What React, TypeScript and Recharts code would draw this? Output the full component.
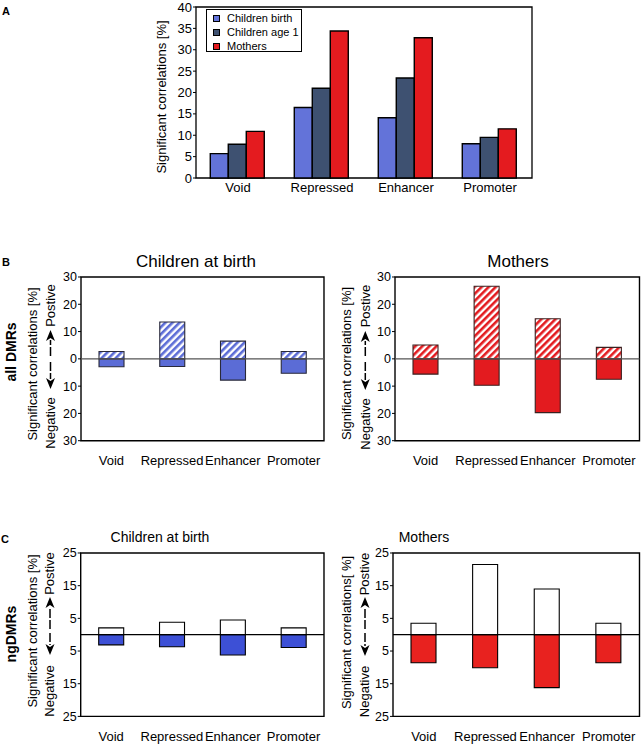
import React from 'react';
import { BarChart, Bar, XAxis, YAxis, ReferenceArea, ReferenceLine, Legend } from 'recharts';

const FONT = '"Liberation Sans", Arial, Helvetica, sans-serif';

// ---------- data ----------
const categories = ['Void', 'Repressed', 'Enhancer', 'Promoter'];

// Panel A: significant correlations [%]
const seriesNamesA = ['Children birth', 'Children age 1', 'Mothers'];
const childrenBirthA = [5.7, 16.5, 14.1, 8.0];
const childrenAge1A = [7.9, 21.0, 23.4, 9.5];
const mothersA = [10.9, 34.4, 32.8, 11.5];
const ticksA = [0, 5, 10, 15, 20, 25, 30, 35, 40];

// Panel B: all DMRs (positive / negative correlations, %)
const birthPosB = [2.7, 13.5, 6.5, 2.7];
const birthNegB = [2.9, 2.8, 7.8, 5.3];
const mothersPosB = [5.1, 26.6, 14.7, 4.2];
const mothersNegB = [5.6, 9.7, 19.7, 7.5];
const ticksB = [-30, -20, -10, 0, 10, 20, 30];

// Panel C: ngDMRs (positive / negative correlations, %)
const birthPosC = [2.1, 3.8, 4.5, 2.1];
const birthNegC = [3.1, 3.7, 6.2, 3.9];
const mothersPosC = [3.5, 21.5, 14.0, 3.5];
const mothersNegC = [8.6, 10.1, 16.2, 8.6];
const ticksC = [-25, -15, -5, 5, 15, 25];

// ---------- colours ----------
const BLUE_A = '#6373d9';
const SLATE_A = '#3e5171';
const RED_A = '#e41b1f';
const BLUE_B = '#5b6cd6';
const RED_B = '#e31b1f';
const BLUE_C = '#3d50d6';
const RED_C = '#e8221f';

const dataA = categories.map((c, i) => ({
  cat: c,
  birth: childrenBirthA[i],
  age1: childrenAge1A[i],
  mothers: mothersA[i],
}));

const absFmt = (v: number) => String(Math.abs(v));
const firstCat = categories[0];
const lastCat = categories[categories.length - 1];

function LegendBox(props: any) {
  const payload = [...(props.payload || [])].sort(
    (a: any, b: any) => seriesNamesA.indexOf(a.value) - seriesNamesA.indexOf(b.value)
  );
  return (
    <div
      style={{
        border: '1px solid #000',
        background: '#fff',
        boxSizing: 'border-box',
        width: 96,
        height: 43,
        padding: '1px 0 0 6px',
        fontFamily: FONT,
        fontSize: 11,
        color: '#000',
      }}
    >
      {payload.map((e: any) => (
        <div key={e.value} style={{ display: 'flex', alignItems: 'center', height: 14, whiteSpace: 'nowrap' }}>
          <span
            style={{
              display: 'inline-block',
              width: 7,
              height: 7,
              background: e.color,
              border: '1px solid #000',
              boxSizing: 'border-box',
              marginRight: 7,
            }}
          />
          {e.value}
        </div>
      ))}
    </div>
  );
}

function PanelA() {
  return (
    <div style={{ position: 'absolute', left: 0, top: 0 }}>
      <BarChart
        width={560}
        height={200}
        data={dataA}
        margin={{ top: 7, right: 28, left: 150, bottom: 0 }}
        barCategoryGap="17%"
        barGap={0}
      >
        <XAxis
          dataKey="cat"
          height={22}
          interval={0}
          axisLine={false}
          tickLine={false}
          tickSize={0}
          tickMargin={5}
          tick={{ fontSize: 13, fill: '#000', fontFamily: FONT }}
        />
        <YAxis
          width={46}
          domain={[0, 40]}
          ticks={ticksA}
          interval={0}
          axisLine={false}
          tickSize={3}
          tickMargin={1}
          tickLine={{ stroke: '#000' }}
          tick={{ fontSize: 13, fill: '#000', fontFamily: FONT }}
        />
        <Bar dataKey="birth" name={seriesNamesA[0]} fill={BLUE_A} stroke="#000" strokeWidth={1.4} isAnimationActive={false} />
        <Bar dataKey="age1" name={seriesNamesA[1]} fill={SLATE_A} stroke="#000" strokeWidth={1.4} isAnimationActive={false} />
        <Bar dataKey="mothers" name={seriesNamesA[2]} fill={RED_A} stroke="#000" strokeWidth={1.4} isAnimationActive={false} />
        <ReferenceArea
          x1={firstCat}
          x2={lastCat}
          y1={0}
          y2={40}
          fill="#fff"
          fillOpacity={0}
          stroke="#000"
          strokeWidth={1.3}
          ifOverflow="visible"
        />
        <Legend
          layout="vertical"
          verticalAlign="middle"
          align="center"
          content={<LegendBox />}
          wrapperStyle={{ left: 206, top: 9, width: 96, height: 43 }}
        />
      </BarChart>
    </div>
  );
}

type DivProps = {
  id: string;
  divLeft: number;
  plot: { l: number; t: number; r: number; b: number };
  pos: number[];
  neg: number[];
  domain: [number, number];
  ticks: number[];
  posFill: string;
  hatchColor?: string;
  negFill: string;
  barStroke: string;
  zeroStroke: string;
};

function Diverging(p: DivProps) {
  const data = categories.map((c, i) => ({ cat: c, pos: p.pos[i], neg: -p.neg[i] }));
  const top = p.plot.t - 10;
  const xH = 30;
  const width = Math.min(p.plot.r + 1.5, 641) - p.divLeft;
  const height = p.plot.b + xH - top;
  const rightMargin = width - (p.plot.r - p.divLeft);
  const patId = 'hatch-' + p.id;
  return (
    <div style={{ position: 'absolute', left: p.divLeft, top }}>
      <BarChart
        width={width}
        height={height}
        data={data}
        stackOffset="sign"
        margin={{ top: 10, right: rightMargin, left: 0, bottom: 0 }}
        barSize={25}
      >
        <defs>
          {p.hatchColor ? (
            <pattern id={patId} patternUnits="userSpaceOnUse" width={5} height={5} patternTransform="rotate(45)">
              <rect x={0} y={0} width={5} height={5} fill="#fff" />
              <rect x={0} y={0} width={2.6} height={5} fill={p.hatchColor} />
            </pattern>
          ) : null}
        </defs>
        <XAxis
          dataKey="cat"
          height={xH}
          interval={0}
          axisLine={false}
          tickLine={false}
          tickSize={0}
          tickMargin={15}
          tick={{ fontSize: 13, fill: '#000', fontFamily: FONT }}
        />
        <YAxis
          width={p.plot.l - p.divLeft}
          domain={p.domain}
          ticks={p.ticks}
          interval={0}
          tickFormatter={absFmt}
          axisLine={false}
          tickSize={3}
          tickMargin={1}
          tickLine={{ stroke: '#000' }}
          tick={{ fontSize: 12.5, fill: '#000', fontFamily: FONT }}
        />
        <Bar
          dataKey="pos"
          stackId="s"
          fill={p.hatchColor ? `url(#${patId})` : p.posFill}
          stroke={p.barStroke}
          strokeWidth={1.1}
          isAnimationActive={false}
        />
        <Bar dataKey="neg" stackId="s" fill={p.negFill} stroke={p.barStroke} strokeWidth={1.1} isAnimationActive={false} />
        <ReferenceLine y={0} stroke={p.zeroStroke} strokeWidth={1.3} />
        <ReferenceArea
          x1={firstCat}
          x2={lastCat}
          y1={p.domain[0]}
          y2={p.domain[1]}
          fill="#fff"
          fillOpacity={0}
          stroke="#000"
          strokeWidth={1.4}
          ifOverflow="visible"
        />
      </BarChart>
    </div>
  );
}

function VText(props: { x: number; y: number; size?: number; weight?: string; children: React.ReactNode }) {
  return (
    <text
      transform={`translate(${props.x},${props.y}) rotate(-90)`}
      textAnchor="middle"
      fontSize={props.size || 13}
      fontWeight={props.weight || 'normal'}
      fontFamily={FONT}
      fill="#000"
    >
      {props.children}
    </text>
  );
}

function VArrow(props: { x: number; tail: number; tip: number }) {
  const dir = props.tip > props.tail ? 1 : -1;
  const headLen = 11;
  const headW = 4.5;
  const stemEnd = props.tip - dir * headLen;
  const x = props.x;
  return (
    <g>
      <line x1={x} y1={props.tail} x2={x} y2={stemEnd + dir * 1} stroke="#000" strokeWidth={1.5} strokeDasharray="9 2" />
      <polygon
        points={`${x},${props.tip} ${x - headW},${stemEnd} ${x},${stemEnd + dir * 3} ${x + headW},${stemEnd}`}
        fill="#000"
      />
    </g>
  );
}

function AxisTitles(props: {
  labelX: number;
  labelY: number;
  label: string;
  sideX: number;
  posY: number;
  negY: number;
  arrowX: number;
  upTail: number;
  upTip: number;
  downTail: number;
  downTip: number;
}) {
  return (
    <g>
      <VText x={props.labelX} y={props.labelY}>{props.label}</VText>
      <VText x={props.sideX} y={props.posY}>Postive</VText>
      <VText x={props.sideX} y={props.negY}>Negative</VText>
      <VArrow x={props.arrowX} tail={props.upTail} tip={props.upTip} />
      <VArrow x={props.arrowX} tail={props.downTail} tip={props.downTip} />
    </g>
  );
}

function Overlay() {
  return (
    <svg
      width={641}
      height={745}
      style={{ position: 'absolute', left: 0, top: 0, pointerEvents: 'none' }}
    >
      {/* panel letters */}
      <text x={2} y={15} fontSize={11} fontWeight="bold" fontFamily={FONT}>A</text>
      <text x={2} y={266} fontSize={11} fontWeight="bold" fontFamily={FONT}>B</text>
      <text x={1} y={543} fontSize={11} fontWeight="bold" fontFamily={FONT}>C</text>

      {/* panel A axis title */}
      <VText x={166} y={97}>Significant correlations [%]</VText>

      {/* panel B */}
      <text x={196} y={266.5} fontSize={17} textAnchor="middle" fontFamily={FONT}>Children at birth</text>
      <text x={518} y={266.5} fontSize={17} textAnchor="middle" fontFamily={FONT}>Mothers</text>
      <VText x={15.5} y={352} size={14} weight="bold">all DMRs</VText>
      <AxisTitles
        labelX={36.5} labelY={364} label="Significant correlations [%]"
        sideX={54.5} posY={305.5} negY={423}
        arrowX={50.5} upTail={356} upTip={330} downTail={362} downTip={389}
      />
      <AxisTitles
        labelX={351.3} labelY={363.5} label="Significant correlations [%]"
        sideX={369.5} posY={306} negY={424}
        arrowX={365.3} upTail={356} upTip={331} downTail={362} downTip={390}
      />

      {/* panel C */}
      <text x={160} y={541.5} fontSize={14} textAnchor="middle" fontFamily={FONT}>Children at birth</text>
      <text x={424} y={541.5} fontSize={14} textAnchor="middle" fontFamily={FONT}>Mothers</text>
      <VText x={15.5} y={634} size={14} weight="bold">ngDMRs</VText>
      <AxisTitles
        labelX={36.5} labelY={631} label="Significant correlations [%]"
        sideX={54} posY={573.5} negY={691}
        arrowX={50} upTail={629} upTip={597} downTail={633} downTip={655}
      />
      <AxisTitles
        labelX={351} labelY={632.5} label="Significant correlations[ %]"
        sideX={369} posY={574} negY={691.5}
        arrowX={365} upTail={629} upTip={597} downTail={633} downTip={656}
      />
    </svg>
  );
}

export default function App() {
  return (
    <div
      style={{
        position: 'absolute',
        left: 0,
        top: 0,
        width: 641,
        height: 745,
        overflow: 'hidden',
        background: '#fff',
        fontFamily: FONT,
      }}
    >
      <PanelA />
      <Diverging
        id="bl"
        divLeft={0}
        plot={{ l: 81, t: 277.3, r: 324, b: 441 }}
        pos={birthPosB}
        neg={birthNegB}
        domain={[-30, 30]}
        ticks={ticksB}
        posFill="#fff"
        hatchColor={BLUE_B}
        negFill={BLUE_B}
        barStroke="#2a2a3a"
        zeroStroke="#555"
      />
      <Diverging
        id="br"
        divLeft={330}
        plot={{ l: 395, t: 277.3, r: 639.5, b: 441 }}
        pos={mothersPosB}
        neg={mothersNegB}
        domain={[-30, 30]}
        ticks={ticksB}
        posFill="#fff"
        hatchColor={RED_B}
        negFill={RED_B}
        barStroke="#3a2020"
        zeroStroke="#555"
      />
      <Diverging
        id="cl"
        divLeft={0}
        plot={{ l: 80.7, t: 553.3, r: 324, b: 716.7 }}
        pos={birthPosC}
        neg={birthNegC}
        domain={[-25, 25]}
        ticks={ticksC}
        posFill="#fff"
        negFill={BLUE_C}
        barStroke="#000"
        zeroStroke="#000"
      />
      <Diverging
        id="cr"
        divLeft={330}
        plot={{ l: 393, t: 553.3, r: 639.5, b: 716.7 }}
        pos={mothersPosC}
        neg={mothersNegC}
        domain={[-25, 25]}
        ticks={ticksC}
        posFill="#fff"
        negFill={RED_C}
        barStroke="#000"
        zeroStroke="#000"
      />
      <Overlay />
    </div>
  );
}
